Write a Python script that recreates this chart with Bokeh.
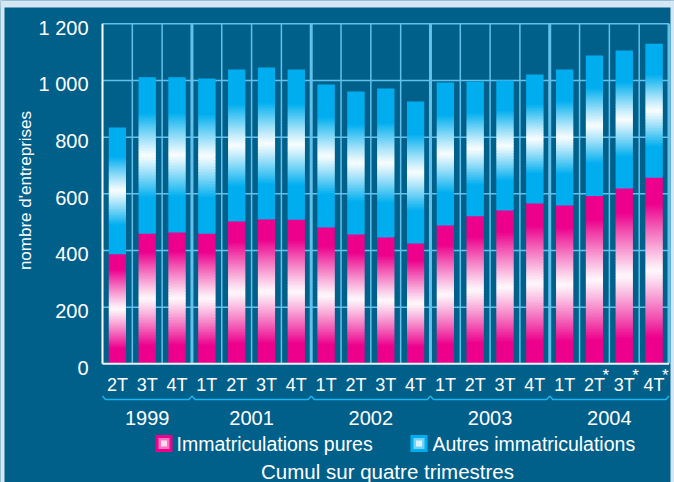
import numpy as np
from bokeh.plotting import figure
from bokeh.models import Range1d, ColumnDataSource
from bokeh.core.properties import value
from bokeh.embed import file_html
from bokeh.resources import INLINE

# ---------------- data ----------------
quarters = ["2T", "3T", "4T", "1T", "2T", "3T", "4T", "1T", "2T", "3T", "4T",
            "1T", "2T", "3T", "4T", "1T", "2T", "3T", "4T"]
quarter_year = ["1999"] * 3 + ["2001"] * 4 + ["2002"] * 4 + ["2003"] * 4 + ["2004"] * 4
provisional = [False] * 16 + [True] * 3
pures = [387, 459, 463, 459, 502, 509, 508, 481, 456, 446, 425, 488, 521, 541, 566, 559, 592, 619, 657]
autres = [447, 552, 548, 548, 537, 537, 531, 505, 505, 526, 501, 505, 475, 459, 455, 480, 496, 487, 473]
y_ticks = [0, 200, 400, 600, 800, 1000, 1200]
y_tick_labels = ["0", "200", "400", "600", "800", "1 000", "1 200"]
series_names = ["Immatriculations pures", "Autres immatriculations"]
y_title = "nombre d'entreprises"
caption = "Cumul sur quatre trimestres"

# ---------------- style / layout ----------------
BG = "#01608a"
EDGE = "#d5e6f5"
GRID = "#62c1ec"
BRACE = "#1fb4ee"
PINK = (236, 0, 140)
BLUE = (0, 174, 239)
FONT = "Liberation Sans"
NARROW = "Liberation Sans Narrow, Liberation Sans"

W, H = 674, 482
FRAME_L, FRAME_R, FRAME_T, FRAME_B = 102.0, 668.5, 23.3, 363.3
n = len(quarters)
YMAX = y_ticks[-1]
c = (FRAME_R - FRAME_L) / n
ky = (FRAME_B - FRAME_T) / YMAX


def X(px):
    return (px - FRAME_L) / c


def Y(py):
    return (FRAME_B - py) / ky


p = figure(width=W, height=H,
           x_range=Range1d(X(0), X(W)),
           y_range=Range1d(Y(H), Y(0)),
           x_axis_type=None, y_axis_type=None,
           output_backend="svg", toolbar_location=None,
           min_border=0, background_fill_color=BG, border_fill_color=BG,
           outline_line_color=None)
for g in p.grid:
    g.visible = False

# light page edges
p.quad(left=[X(0), X(0), X(670)], right=[X(W), X(4), X(W)],
       bottom=[Y(7), Y(H), Y(H)], top=[Y(0), Y(0), Y(0)],
       fill_color=EDGE, line_color=None)

# groups from year labels
groups = []
start = 0
for i in range(1, n + 1):
    if i == n or quarter_year[i] != quarter_year[i - 1]:
        groups.append((quarter_year[start], start, i))
        start = i
group_bounds = [g[2] for g in groups[:-1]]

# ---------------- grid ----------------
hy = [v for v in y_ticks[1:-1]]
p.segment(x0=[0] * len(hy), x1=[n] * len(hy), y0=hy, y1=hy, line_color=GRID, line_width=1.5)
p.segment(x0=[0], x1=[n], y0=[YMAX], y1=[YMAX], line_color=GRID, line_width=1.5)
thin = [i for i in range(1, n) if i not in group_bounds]
p.segment(x0=thin, x1=thin, y0=[0] * len(thin), y1=[YMAX] * len(thin), line_color=GRID, line_width=1.5)
thick = group_bounds + [n]
p.segment(x0=thick, x1=thick, y0=[0] * len(thick), y1=[YMAX] * len(thick), line_color=GRID, line_width=3)


# ---------------- gradient bars ----------------
def mix(col, w):
    r, g, b = [int(round(ch + (255 - ch) * w)) for ch in col]
    return "#%02x%02x%02x" % (r, g, b)


def prof(t, hw):
    d = abs(t - 0.5) / hw
    return 0.97 * max(0.0, 1.0 - d ** 1.1) if d < 1 else 0.0


half = 0.2875
ov = 1.0 / ky
L, R, B, T, C = [], [], [], [], []
for i in range(n):
    segs = [(0, pures[i], PINK, 0.36), (pures[i], pures[i] + autres[i], BLUE, 0.27)]
    for si, (y0, y1, col, hw) in enumerate(segs):
        ns = max(8, int((y1 - y0) * ky / 1.5))
        for k in range(ns):
            b = y0 + (y1 - y0) * k / ns
            t = y0 + (y1 - y0) * (k + 1) / ns
            if not (si == 1 and k == ns - 1):
                t = t + ov
            L.append(i + 0.5 - half)
            R.append(i + 0.5 + half)
            B.append(b)
            T.append(t)
            C.append(mix(col, prof((k + 0.5) / ns, hw)))
p.quad(left="l", right="r", bottom="b", top="t", fill_color="c", line_color=None,
       source=ColumnDataSource(dict(l=L, r=R, b=B, t=T, c=C)))

# axis lines
p.segment(x0=[0], x1=[0], y0=[0], y1=[YMAX], line_color="white", line_width=2)
p.segment(x0=[0], x1=[n], y0=[0], y1=[0], line_color="#e8f4fb", line_width=2)

# ---------------- y tick labels ----------------
p.text(x=[X(88)] * len(y_ticks), y=y_ticks, text=y_tick_labels, text_align="right",
       text_baseline="middle", y_offset=4, text_color="white",
       text_font=value(FONT), text_font_size="20px")
p.text(x=[X(25)], y=[Y(190)], text=[y_title], angle=np.pi / 2, text_align="center",
       text_baseline="middle", text_color="white", text_font=value(FONT), text_font_size="17px")

# ---------------- x tick labels ----------------
xc = [i + 0.5 for i in range(n)]
p.text(x=xc, y=[Y(384)] * n, text=quarters, text_align="center", text_baseline="middle",
       text_color="white", text_font=value(NARROW), text_font_size="18px")
ast = [i + 0.5 for i in range(n) if provisional[i]]
p.text(x=ast, y=[Y(384)] * len(ast), text=["*"] * len(ast), text_align="left",
       text_baseline="middle", x_offset=8, y_offset=-9, text_color="white",
       text_font=value(FONT), text_font_size="17px")

# ---------------- braces + years ----------------
dx = 3.0 / c
yb = Y(399)
yt = Y(395.5)
bxs, bys = [], []
for name, a, b in groups:
    bxs.append([a, a + dx, b - dx, b])
    bys.append([yt, yb, yb, yt])
p.multi_line(xs=bxs, ys=bys, line_color=BRACE, line_width=1.5)
p.text(x=[(a + b) / 2 for _, a, b in groups], y=[Y(417)] * len(groups),
       text=[g[0] for g in groups], text_align="center", text_baseline="middle",
       text_color="white", text_font=value(FONT), text_font_size="20px")

# ---------------- legend ----------------
ly = 443
for (sx, col, tx, name) in [(155, PINK, 176, series_names[0]), (410, BLUE, 432, series_names[1])]:
    for s, w in [(8.5, 0.0), (5.5, 0.45), (3, 0.85)]:
        cx = sx + 8.5
        p.quad(left=[X(cx - s)], right=[X(cx + s)], bottom=[Y(ly + s)], top=[Y(ly - s)],
               fill_color=mix(col, w), line_color=None)
    p.text(x=[X(tx)], y=[Y(ly)], text=[name], text_align="left", text_baseline="middle",
           text_color="white", text_font=value(FONT), text_font_size="19.5px")

p.text(x=[X(387)], y=[Y(471)], text=[caption], text_align="center", text_baseline="middle",
       text_color="white", text_font=value(FONT), text_font_size="20.5px")

open("out.html", "w").write(file_html(p, INLINE))
